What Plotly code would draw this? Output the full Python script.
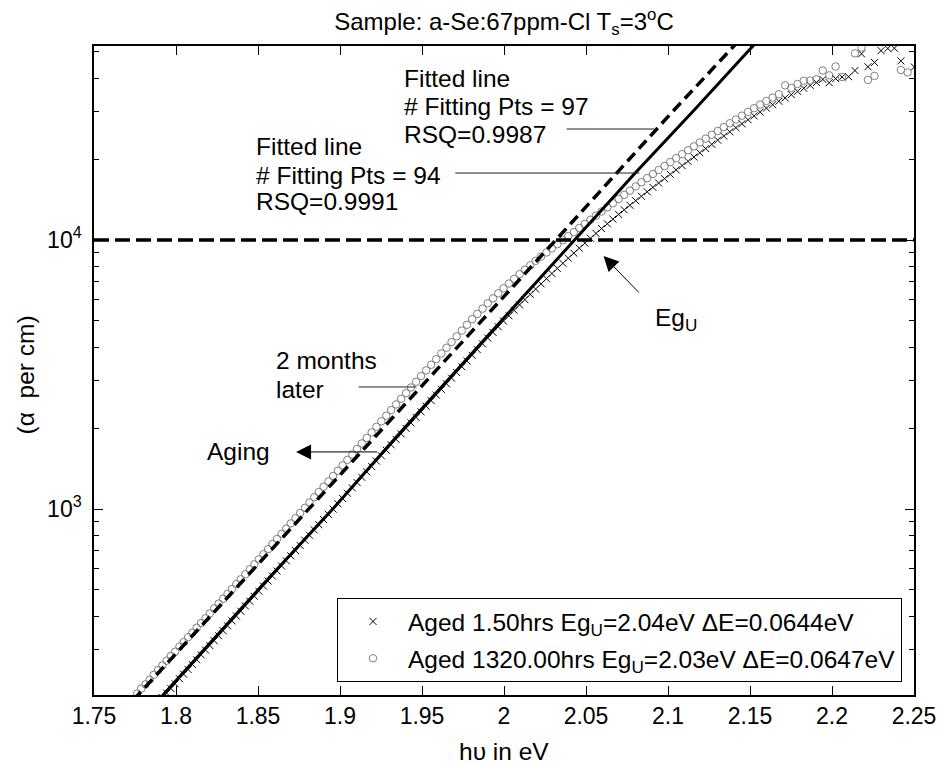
import numpy as np
import plotly.graph_objects as go

FONT = "Liberation Sans, Arial, Helvetica, sans-serif"

# Photon energy hv (eV) and absorption coefficient alpha (per cm), aged 1.50 hrs
energy_1p5h = [
    1.7917, 1.7943, 1.7969, 1.7995, 1.8021, 1.8047, 1.8074, 1.8100, 1.8126, 1.8153,
    1.8180, 1.8206, 1.8233, 1.8260, 1.8287, 1.8314, 1.8341, 1.8368, 1.8395, 1.8423,
    1.8450, 1.8478, 1.8505, 1.8533, 1.8561, 1.8588, 1.8616, 1.8644, 1.8672, 1.8700,
    1.8729, 1.8757, 1.8786, 1.8814, 1.8843, 1.8871, 1.8900, 1.8929, 1.8958, 1.8987,
    1.9016, 1.9045, 1.9075, 1.9104, 1.9133, 1.9163, 1.9193, 1.9222, 1.9252, 1.9282,
    1.9312, 1.9342, 1.9373, 1.9403, 1.9433, 1.9464, 1.9494, 1.9525, 1.9556, 1.9587,
    1.9618, 1.9649, 1.9680, 1.9711, 1.9743, 1.9774, 1.9806, 1.9837, 1.9869, 1.9901,
    1.9933, 1.9965, 1.9997, 2.0030, 2.0062, 2.0095, 2.0127, 2.0160, 2.0193, 2.0226,
    2.0259, 2.0292, 2.0325, 2.0359, 2.0392, 2.0426, 2.0459, 2.0493, 2.0527, 2.0561,
    2.0595, 2.0630, 2.0664, 2.0699, 2.0733, 2.0768, 2.0803, 2.0838, 2.0873, 2.0908,
    2.0943, 2.0979, 2.1014, 2.1050, 2.1086, 2.1122, 2.1158, 2.1194, 2.1230, 2.1267,
    2.1303, 2.1340, 2.1377, 2.1414, 2.1451, 2.1488, 2.1525, 2.1562, 2.1600, 2.1638,
    2.1676, 2.1714, 2.1752, 2.1790, 2.1828, 2.1867, 2.1905, 2.1944, 2.1983, 2.2022,
    2.2061, 2.2101, 2.2140, 2.2180, 2.2219, 2.2259, 2.2299, 2.2340, 2.2380, 2.2420,
    2.2502,
]
alpha_1p5h = [
    199, 207, 215, 224, 234, 243, 253, 264, 275, 287,
    299, 311, 324, 338, 353, 368, 384, 400, 417, 436,
    454, 474, 495, 517, 540, 563, 588, 614, 642, 670,
    700, 732, 765, 799, 836, 874, 914, 956, 999, 1046,
    1094, 1145, 1198, 1254, 1312, 1374, 1439, 1507, 1578, 1653,
    1732, 1815, 1902, 1994, 2090, 2191, 2298, 2410, 2528, 2652,
    2783, 2921, 3066, 3218, 3379, 3548, 3726, 3914, 4112, 4320,
    4535, 4759, 4993, 5229, 5477, 5738, 6004, 6280, 6572, 6871,
    7180, 7506, 7842, 8192, 8561, 8935, 9326, 9734, 10150, 10580,
    11030, 11490, 11960, 12450, 12950, 13460, 14000, 14540, 15110, 15690,
    16290, 16910, 17550, 18220, 18910, 19610, 20340, 21100, 21870, 22680,
    23510, 24360, 25250, 26150, 27050, 28000, 28940, 29900, 30900, 31830,
    32790, 33750, 34710, 35700, 36640, 37560, 38500, 39540, 38460, 39810,
    40360, 40460, 42660, 49200, 44060, 45710, 50580, 51520, 51640, 46340,
    43960,
]

# Photon energy hv (eV) and absorption coefficient alpha (per cm), aged 1320 hrs
energy_1320h = [
    1.7763, 1.7788, 1.7814, 1.7839, 1.7865, 1.7891,
    1.7917, 1.7943, 1.7969, 1.7995, 1.8021, 1.8047, 1.8074, 1.8100, 1.8126, 1.8153,
    1.8180, 1.8206, 1.8233, 1.8260, 1.8287, 1.8314, 1.8341, 1.8368, 1.8395, 1.8423,
    1.8450, 1.8478, 1.8505, 1.8533, 1.8561, 1.8588, 1.8616, 1.8644, 1.8672, 1.8700,
    1.8729, 1.8757, 1.8786, 1.8814, 1.8843, 1.8871, 1.8900, 1.8929, 1.8958, 1.8987,
    1.9016, 1.9045, 1.9075, 1.9104, 1.9133, 1.9163, 1.9193, 1.9222, 1.9252, 1.9282,
    1.9312, 1.9342, 1.9373, 1.9403, 1.9433, 1.9464, 1.9494, 1.9525, 1.9556, 1.9587,
    1.9618, 1.9649, 1.9680, 1.9711, 1.9743, 1.9774, 1.9806, 1.9837, 1.9869, 1.9901,
    1.9933, 1.9965, 1.9997, 2.0030, 2.0062, 2.0095, 2.0127, 2.0160, 2.0193, 2.0226,
    2.0259, 2.0292, 2.0325, 2.0359, 2.0392, 2.0426, 2.0459, 2.0493, 2.0527, 2.0561,
    2.0595, 2.0630, 2.0664, 2.0699, 2.0733, 2.0768, 2.0803, 2.0838, 2.0873, 2.0908,
    2.0943, 2.0979, 2.1014, 2.1050, 2.1086, 2.1122, 2.1158, 2.1194, 2.1230, 2.1267,
    2.1303, 2.1340, 2.1377, 2.1414, 2.1451, 2.1488, 2.1525, 2.1562, 2.1600, 2.1638,
    2.1676, 2.1714, 2.1752, 2.1790, 2.1828, 2.1867, 2.1905, 2.1944, 2.1983, 2.2022,
    2.2061,
    2.2140, 2.2180, 2.2219, 2.2259, 2.2420, 2.2461,
]
alpha_1320h = [
    206, 215, 223, 232, 242, 252,
    262, 273, 284, 295, 308, 320, 334, 347, 362, 377,
    393, 409, 427, 445, 464, 483, 504, 526, 548, 572,
    597, 623, 650, 679, 709, 741, 774, 809, 845, 884,
    924, 966, 1010, 1057, 1106, 1156, 1210, 1266, 1326, 1387,
    1453, 1523, 1595, 1672, 1753, 1838, 1927, 2021, 2119, 2223,
    2333, 2448, 2569, 2696, 2830, 2972, 3121, 3275, 3437, 3607,
    3787, 3977, 4175, 4385, 4606, 4840, 5077, 5311, 5558, 5816,
    6070, 6336, 6614, 6886, 7170, 7466, 7757, 8054, 8364, 8672,
    8988, 9315, 9646, 9986, 10340, 10700, 11080, 11480, 11890, 12320,
    12760, 13220, 13700, 14200, 14720, 15260, 15820, 16390, 16980, 17590,
    18200, 18840, 19490, 20160, 20850, 21560, 22290, 23050, 23810, 24600,
    25420, 26270, 27160, 28060, 28990, 29940, 30900, 31880, 32880, 33840,
    34820, 37580, 36770, 38020, 39080, 39170, 39540, 42660, 40930, 44160,
    40360,
    49430, 51880, 39360, 40740, 42860, 41980,
]

# Exponential edge fits (alpha = 1e4 at Eg_U)
fit_energy_1p5h = [1.790, 1.852, 1.896, 1.935, 1.972, 2.010, 2.043, 2.080, 2.116, 2.154]
fit_alpha_1p5h = [197, 516, 1007, 1871, 3323, 5993, 10000, 17760, 30410, 54450]
fit_energy_1320h = [1.774, 1.865, 1.942, 2.0316, 2.102, 2.142]
fit_alpha_1320h = [195, 783, 2542, 10000, 29650, 54070]

alpha_ref = 1e4
energy_range = [1.75, 2.25]

legend_names = [
    "Aged 1.50hrs Eg<sub>U</sub>=2.04eV \u0394E=0.0644eV",
    "Aged 1320.00hrs Eg<sub>U</sub>=2.03eV \u0394E=0.0647eV",
]

x_ticks = [1.75, 1.80, 1.85, 1.90, 1.95, 2.00, 2.05, 2.10, 2.15, 2.20, 2.25]
x_tick_text = ["1.75", "1.8", "1.85", "1.9", "1.95", "2", "2.05", "2.1", "2.15", "2.2", "2.25"]
y_ticks = [1e3, 1e4]
y_tick_text = ["10<sup>3</sup>", "10<sup>4</sup>"]
y_minor_ticks = [300, 400, 500, 600, 700, 800, 900,
                 2000, 3000, 4000, 5000, 6000, 7000, 8000, 9000,
                 20000, 30000, 40000, 50000]

# Text labels: (energy, alpha, text), each line anchored on its own
text_labels = [
    (1.9375, 40010, "Fitted line"),
    (1.9375, 31360, "# Fitting Pts = 97"),
    (1.9375, 24570, "RSQ=0.9987"),
    (1.8477, 22170, "Fitted line"),
    (1.8477, 17440, "# Fitting Pts = 94"),
    (1.8477, 13850, "RSQ=0.9991"),
    (1.8598, 3580, "2 months"),
    (1.8598, 2793, "later"),
    (1.8174, 1633, "Aging"),
    (2.0908, 5043, "Eg<sub>U</sub>"),
]
leader_lines = [
    ([2.0382, 2.0916], 25860),
    ([1.9703, 2.0825], 17740),
    ([1.9114, 1.9466], 2842),
]
arrows = [
    ((1.8732, 1630), (1.9235, 1630)),
    ((2.0607, 8720), (2.0831, 6300)),
]

TICK = 23
TXT = 24.5

fig = go.Figure()

fig.add_trace(go.Scatter(
    x=energy_1p5h, y=alpha_1p5h, mode="markers", name=legend_names[0],
    legendgroup="a",
    marker=dict(symbol="x-thin", size=7, color="black",
                line=dict(color="black", width=1)),
))
fig.add_trace(go.Scatter(
    x=energy_1320h, y=alpha_1320h, mode="markers", name=legend_names[1],
    legendgroup="b",
    marker=dict(symbol="circle-open", size=7.5, color="#808080",
                line=dict(color="#808080", width=1)),
))
fig.add_trace(go.Scatter(
    x=fit_energy_1p5h, y=fit_alpha_1p5h, mode="lines", showlegend=False,
    line=dict(color="black", width=3), hoverinfo="skip",
))
fig.add_trace(go.Scatter(
    x=fit_energy_1320h, y=fit_alpha_1320h, mode="lines", showlegend=False,
    line=dict(color="black", width=3.5, dash="11px,6px"), hoverinfo="skip",
))
fig.add_trace(go.Scatter(
    x=energy_range, y=[alpha_ref, alpha_ref], mode="lines", showlegend=False,
    line=dict(color="black", width=3.5, dash="15px,6px"), hoverinfo="skip",
))
for xs, a in leader_lines:
    fig.add_trace(go.Scatter(
        x=xs, y=[a, a], mode="lines", showlegend=False,
        line=dict(color="#222222", width=1), hoverinfo="skip",
    ))

font = dict(family=FONT, size=TXT, color="black")

annotations = []
for e, a, t in text_labels:
    annotations.append(dict(
        x=e, y=np.log10(a), xref="x", yref="y", text=t, showarrow=False,
        xanchor="left", yanchor="middle", align="left", font=font))
for head, tail in arrows:
    annotations.append(dict(
        x=head[0], y=np.log10(head[1]), ax=tail[0], ay=np.log10(tail[1]),
        xref="x", yref="y", axref="x", ayref="y", text="",
        showarrow=True, arrowhead=2, arrowsize=3, arrowwidth=1,
        arrowcolor="black", standoff=0, startstandoff=0))
annotations += [
    dict(x=0.5, y=-0.0878, xref="paper", yref="paper", text="h\u03c5 in eV",
         showarrow=False, xanchor="center", yanchor="middle", font=font),
    dict(x=-0.0837, y=0.493, xref="paper", yref="paper", text="(\u03b1  per cm)",
         showarrow=False, xanchor="center", yanchor="middle", textangle=-90,
         font=font),
]

axis_common = dict(
    showline=True, linecolor="black", linewidth=1.5, mirror="ticks",
    ticks="inside", ticklen=9, tickwidth=1, tickcolor="black",
    showgrid=False, zeroline=False,
    tickfont=dict(family=FONT, size=TICK, color="black"),
)

fig.update_layout(
    width=948, height=765,
    margin=dict(l=94, r=30, t=46, b=70),
    paper_bgcolor="white", plot_bgcolor="white",
    font=dict(family=FONT, color="black"),
    title=dict(text="Sample: a-Se:67ppm-Cl T<sub>s</sub>=3<sup>o</sup>C",
               x=0.5, xref="paper", xanchor="center",
               y=1 - 22 / 765, yref="container", yanchor="middle",
               font=dict(family=FONT, size=24, color="black")),
    xaxis=dict(range=energy_range, tickmode="array", tickvals=x_ticks,
               ticktext=x_tick_text, ticklabelstandoff=0, **axis_common),
    yaxis=dict(type="log", range=[2.3086, 4.7212], tickmode="array",
               tickvals=y_ticks, ticktext=y_tick_text, ticklabelstandoff=6,
               minor=dict(tickmode="array", tickvals=y_minor_ticks,
                          ticks="inside", ticklen=5.5, tickwidth=1,
                          tickcolor="black", showgrid=False),
               **axis_common),
    legend=dict(x=0.9854, y=0.0200, xanchor="right", yanchor="bottom",
                bordercolor="black", borderwidth=1, bgcolor="white",
                font=dict(family=FONT, size=TXT, color="black"),
                itemwidth=60, tracegroupgap=2),
    annotations=annotations,
    showlegend=True,
)

fig.write_html("out.html")
